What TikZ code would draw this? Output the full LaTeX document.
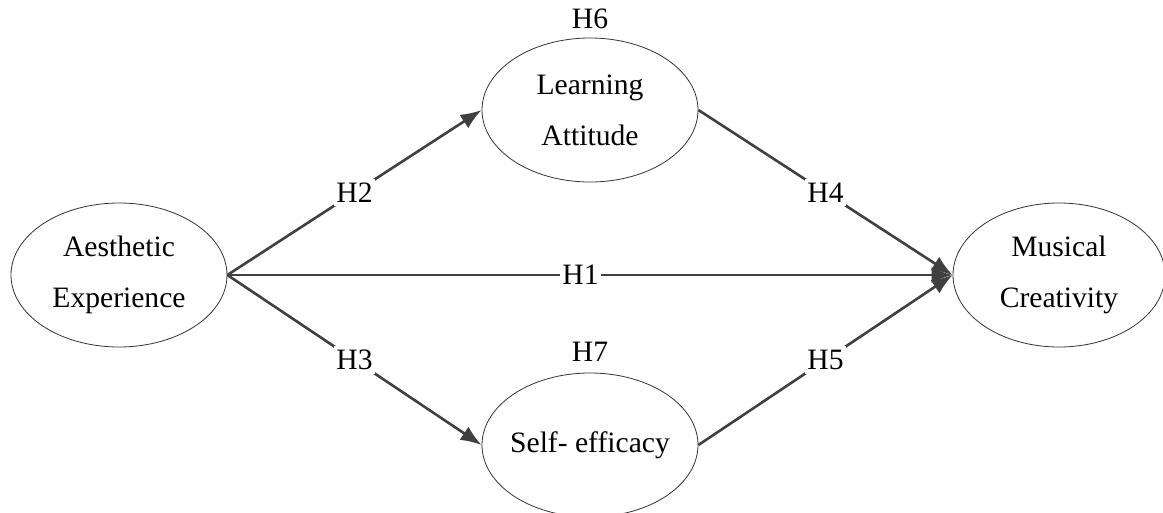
\documentclass[tikz,border=0pt]{standalone}
\usepackage{fontspec}
\setmainfont{Liberation Serif}
\usetikzlibrary{shapes.geometric,arrows.meta}
\definecolor{linegray}{HTML}{404040}
\definecolor{edgegray}{HTML}{333333}
\begin{document}
\begin{tikzpicture}[x=1pt,y=-1pt,
  construct/.style={ellipse,draw=edgegray,line width=0.8pt,minimum width=216pt,minimum height=144pt,inner sep=0pt,align=center,font=\fontsize{29.6}{51}\selectfont},
  path/.style={draw=linegray,line width=2.6pt,-{Latex[length=21pt,width=16pt]}},
  hlabel/.style={fill=white,inner xsep=2pt,inner ysep=4pt,font=\fontsize{29.6}{34}\selectfont},
  toplabel/.style={inner sep=0pt,font=\fontsize{29.6}{34}\selectfont}]
\useasboundingbox (0,0) rectangle (1163,512);
\node[construct] (ae) at (119,275) {Aesthetic\\Experience};
\node[construct] (la) at (590,110) {Learning\\Attitude};
\node[construct] (se) at (590,445) {\makebox[100pt]{Self- efficacy}};
\node[construct,minimum width=212pt] (mc) at (1059,275) {Musical\\Creativity};
\node[toplabel] (h6) at (590,19) {H6};
\node[toplabel] (h7) at (590,352) {H7};
\draw[path] (ae.east) -- node[hlabel] (h2) {H2} (la.west);
\draw[path] (ae.east) -- node[hlabel] (h3) {H3} (se.west);
\draw[path] (ae.east) -- node[hlabel,pos=0.487] (h1) {H1} (mc.west);
\draw[path] (la.east) -- node[hlabel] (h4) {H4} (mc.west);
\draw[path] (se.east) -- node[hlabel] (h5) {H5} (mc.west);
\end{tikzpicture}
\end{document}
